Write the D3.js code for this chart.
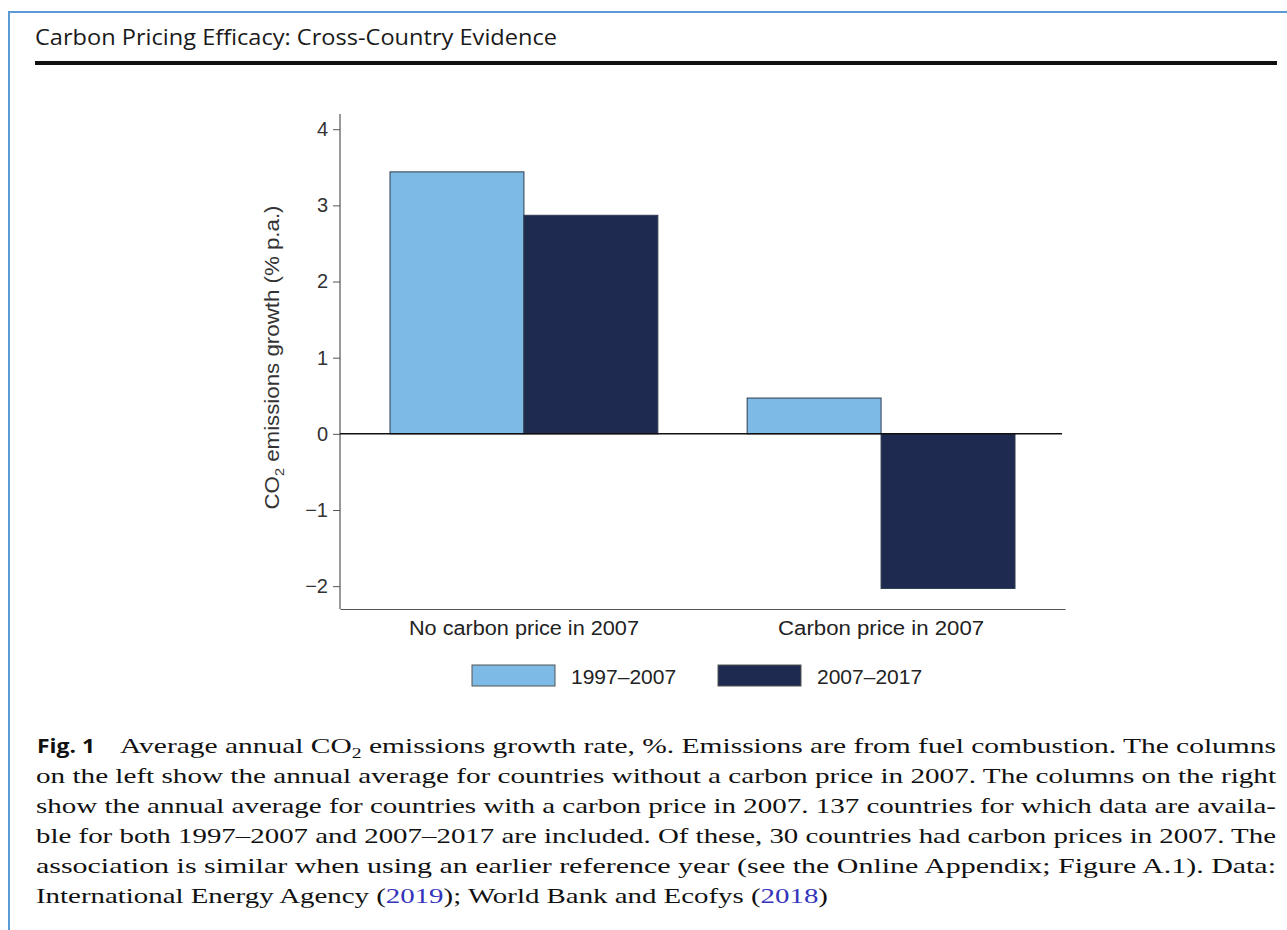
<!DOCTYPE html>
<html>
<head>
<meta charset="utf-8">
<script src="https://cdn.jsdelivr.net/npm/d3@7"></script>
<style>
  body { margin: 0; background: #fff; }
  svg { display: block; }
</style>
</head>
<body>
<div id="chart"></div>
<script>
// data
const categories = ["No carbon price in 2007", "Carbon price in 2007"];
const periods = ["1997–2007", "2007–2017"];
const growth1997 = [3.44, 0.47];
const growth2007 = [2.87, -2.03];
const yTicks = [-2, -1, 0, 1, 2, 3, 4];
const colors = ["#7dbbe6", "#1f2a50"];

const width = 1287, height = 930;
const svg = d3.select("#chart").append("svg")
  .attr("width", width)
  .attr("height", height);

const sans = "Liberation Sans, Arial, sans-serif";
// the scanned figure is a bit wider than the fonts, so labels get stretched
const catLabelWidth = [230, 206];

// blue frame (top + left edges)
svg.append("path")
  .attr("d", "M9,930 V12 H1287")
  .attr("fill", "none")
  .attr("stroke", "#5b9bd5")
  .attr("stroke-width", 2);

// header
svg.append("text")
  .attr("x", 35).attr("y", 45)
  .attr("font-family", "Open Sans, sans-serif")
  .attr("font-size", 22)
  .attr("fill", "#1a1a1a")
  .attr("textLength", 522)
  .attr("lengthAdjust", "spacingAndGlyphs")
  .text("Carbon Pricing Efficacy: Cross-Country Evidence");

svg.append("rect")
  .attr("x", 35).attr("y", 61)
  .attr("width", 1242).attr("height", 4)
  .attr("fill", "#111");

// chart area
const plot = { left: 340, right: 1065, top: 114, bottom: 609 };

const y = d3.scaleLinear()
  .domain([-2.3, 4.2])
  .range([plot.bottom, plot.top]);

const x0 = d3.scaleBand()
  .domain(categories)
  .range([plot.left, plot.right])
  .paddingInner(0.25)
  .paddingOuter(0.14);

const x1 = d3.scaleBand()
  .domain(periods)
  .range([0, x0.bandwidth()]);

const rows = categories.map((c, i) => ({ cat: c, values: [growth1997[i], growth2007[i]] }));

// y axis
const yAxis = svg.append("g")
  .attr("transform", `translate(${plot.left},0)`)
  .call(d3.axisLeft(y).tickValues(yTicks).tickSize(7).tickPadding(5)
    .tickFormat(d => d < 0 ? "\u2212" + Math.abs(d) : d));
yAxis.select(".domain").attr("stroke", "#555").attr("stroke-width", 1.2)
  .attr("d", `M0,${plot.bottom}V${plot.top}`);
yAxis.selectAll(".tick line").attr("stroke", "#555");
yAxis.selectAll(".tick text")
  .attr("font-family", sans)
  .attr("font-size", 20)
  .attr("fill", "#333");

// x axis (bottom line, no ticks)
const xAxis = svg.append("g")
  .attr("transform", `translate(0,${plot.bottom})`)
  .call(d3.axisBottom(x0).tickSize(0).tickPadding(12));
xAxis.select(".domain").attr("stroke", "#555").attr("stroke-width", 1.2);
xAxis.selectAll(".tick text")
  .attr("font-family", sans)
  .attr("font-size", 20)
  .attr("fill", "#222")
  .attr("textLength", (d, i) => catLabelWidth[i])
  .attr("lengthAdjust", "spacingAndGlyphs");

// bars
svg.append("g").selectAll("g")
  .data(rows)
  .join("g")
  .attr("transform", d => `translate(${x0(d.cat)},0)`)
  .selectAll("rect")
  .data(d => d.values.map((v, j) => ({ period: periods[j], v: v, j: j })))
  .join("rect")
  .attr("x", d => x1(d.period))
  .attr("width", x1.bandwidth())
  .attr("y", d => y(Math.max(0, d.v)))
  .attr("height", d => Math.abs(y(d.v) - y(0)))
  .attr("fill", d => colors[d.j])
  .attr("stroke", "#2d3a4f")
  .attr("stroke-width", 1);

// zero line
svg.append("line")
  .attr("x1", plot.left).attr("x2", plot.right - 3)
  .attr("y1", y(0)).attr("y2", y(0))
  .attr("stroke", "#111")
  .attr("stroke-width", 1.5);

// y label
svg.append("text")
  .attr("transform", `translate(279,${(plot.top + plot.bottom) / 2 - 4}) rotate(-90)`)
  .attr("text-anchor", "middle")
  .attr("font-family", sans)
  .attr("font-size", 20)
  .attr("fill", "#333")
  .attr("textLength", 304)
  .attr("lengthAdjust", "spacingAndGlyphs")
  .call(t => {
    t.append("tspan").text("CO");
    t.append("tspan").attr("font-size", 13).attr("dy", 5).text("2");
    t.append("tspan").attr("dy", -5).text(" emissions growth (% p.a.)");
  });

// legend
const legendX = [472, 718];
const legend = svg.append("g").selectAll("g")
  .data(periods)
  .join("g")
  .attr("transform", (d, i) => `translate(${legendX[i]},665)`);
legend.append("rect")
  .attr("width", 83).attr("height", 21)
  .attr("fill", (d, i) => colors[i])
  .attr("stroke", "#555").attr("stroke-width", 1);
legend.append("text")
  .attr("x", 99).attr("y", 19)
  .attr("font-family", sans)
  .attr("font-size", 21)
  .attr("fill", "#222")
  .text(d => d);

// caption
svg.append("text")
  .attr("x", 37).attr("y", 753)
  .attr("font-family", "Open Sans, Liberation Sans, sans-serif")
  .attr("font-weight", "bold")
  .attr("font-size", 19)
  .attr("fill", "#111")
  .attr("textLength", 58)
  .attr("lengthAdjust", "spacingAndGlyphs")
  .text("Fig. 1");

const captionLines = [
  [["t", "Average annual CO"], ["s", "2"], ["u", " emissions growth rate, %. Emissions are from fuel combustion. The columns"]],
  [["t", "on the left show the annual average for countries without a carbon price in 2007. The columns on the right"]],
  [["t", "show the annual average for countries with a carbon price in 2007. 137 countries for which data are availa-"]],
  [["t", "ble for both 1997–2007 and 2007–2017 are included. Of these, 30 countries had carbon prices in 2007. The"]],
  [["t", "association is similar when using an earlier reference year (see the Online Appendix; Figure A.1). Data:"]],
  [["t", "International Energy Agency ("], ["l", "2019"], ["t", "); World Bank and Ecofys ("], ["l", "2018"], ["t", ")"]]
];
const capStart = [120, 36, 36, 36, 36, 36];
const capEnd = [1276, 1276, 1276, 1276, 1276, 828];

captionLines.forEach((parts, i) => {
  const t = svg.append("text")
    .attr("x", capStart[i])
    .attr("y", 753 + i * 30)
    .attr("font-family", "Liberation Serif, Times New Roman, serif")
    .attr("font-size", 21)
    .attr("fill", "#111")
    .attr("textLength", capEnd[i] - capStart[i])
    .attr("lengthAdjust", "spacingAndGlyphs");
  parts.forEach(([kind, str]) => {
    const s = t.append("tspan").text(str);
    if (kind === "s") {
      s.attr("font-size", 14).attr("dy", 5);
    } else if (kind === "u") {
      s.attr("dy", -5);
    } else if (kind === "l") {
      s.attr("fill", "#3333bb");
    }
  });
});
</script>
</body>
</html>
